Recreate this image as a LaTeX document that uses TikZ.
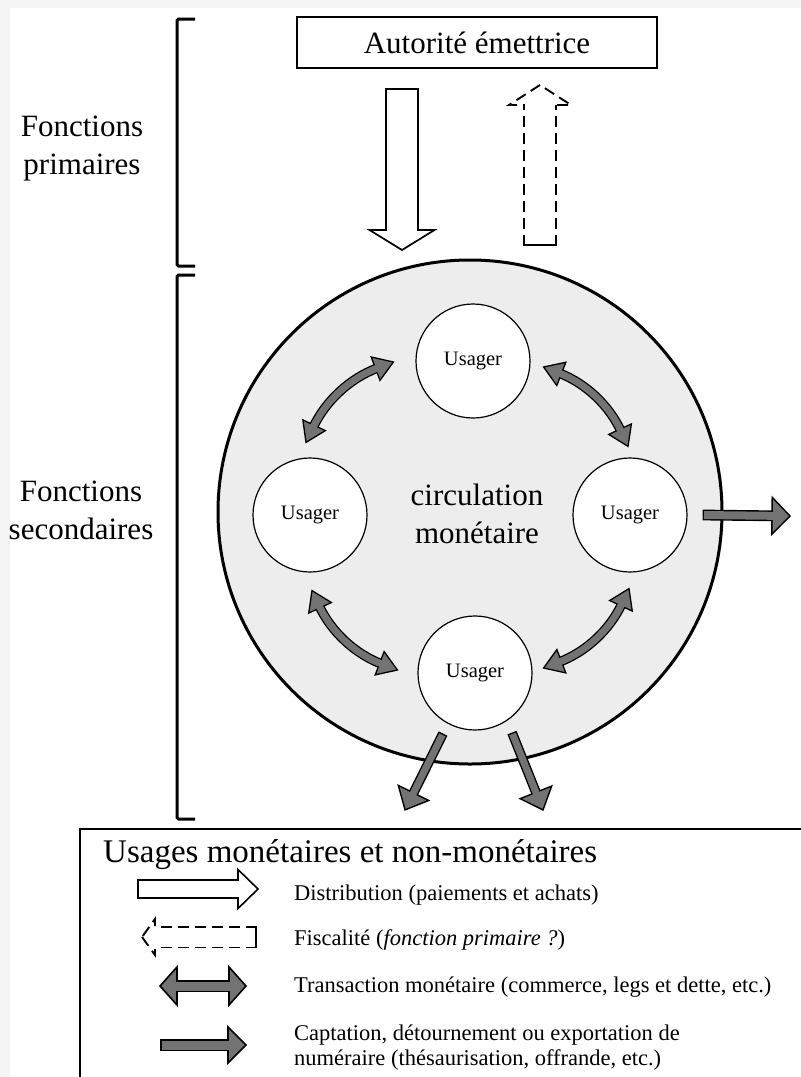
\documentclass[tikz,border=0pt]{standalone}
\usepackage{fontspec}
\setmainfont{Liberation Serif}
\usetikzlibrary{calc,decorations.markings}

\tikzset{
  arlw/.store in=\arlw, arshaft/.store in=\arshaft, arhead/.store in=\arhead,
  arlen/.store in=\arlen, arbody/.store in=\arbody,
  arlw=1.4pt, arshaft=8pt, arhead=30pt, arlen=18pt, arbody=black!55,
  arline/.style={solid},
  arhd/.style={draw=black, fill=\arbody, line width=\arlw, arline},
  % block arrow: outline, head, then body colour
  flow/.style={
    preaction={draw=black, line width=\arshaft+2*\arlw, arline, shorten >=\arlen-2pt},
    postaction={decorate, decoration={markings, mark=at position 1 with {
      \path[arhd] (0pt,0pt) -- ({-\arlen},{0.5*\arhead}) -- ({-\arlen},{-0.5*\arhead}) -- cycle;}}},
    postaction={draw=\arbody, line width=\arshaft, shorten >=\arlen-2pt, shorten <=\arlw}},
  dflow/.style={
    preaction={draw=black, line width=\arshaft+2*\arlw, shorten >=\arlen-2pt, shorten <=\arlen-2pt},
    postaction={decorate, decoration={markings,
      mark=at position 0 with {
        \path[arhd] (0pt,0pt) -- (\arlen,{0.5*\arhead}) -- (\arlen,{-0.5*\arhead}) -- cycle;},
      mark=at position 1 with {
        \path[arhd] (0pt,0pt) -- ({-\arlen},{0.5*\arhead}) -- ({-\arlen},{-0.5*\arhead}) -- cycle;}}},
    postaction={draw=\arbody, line width=\arshaft, shorten >=\arlen-2pt, shorten <=\arlen-2pt}},
  tax/.style={flow, arbody=white, arlw=1.9pt, arline/.style={dash pattern=on 11pt off 6pt}}
}

\begin{document}
\begin{tikzpicture}[x=1pt, y=-1pt,
  usager/.style={circle, draw, line width=1.2pt, fill=white, minimum size=114pt,
    inner sep=0pt, font=\fontsize{20.5}{24}\selectfont},
  sidetext/.style={align=center, inner sep=0pt, font=\fontsize{31}{38}\selectfont},
  legtext/.style={anchor=base west, inner sep=0pt, font=\fontsize{22.5}{26}\selectfont},
  bracket/.style={line width=3pt, rounded corners=1.5pt}]
\fill[black!4] (0,0) rectangle (801,1077);
\fill[white] (10,8) rectangle (801,1077);
\useasboundingbox (0,0) rectangle (801,1077);
\clip (0,0) rectangle (801,1077);

% primary functions
\node[draw, line width=2pt, minimum width=360pt, minimum height=51pt,
  font=\fontsize{31}{36}\selectfont] (auth) at (477,42.5) {Autorité émettrice};
\node[sidetext] (prim) at (82,149) {Fonctions\\primaires};
\node[sidetext] (sec) at (81,510) {Fonctions\\secondaires};
\draw[bracket] (195,19) -- (177,19) -- (177,266) -- (195,266);
\draw[bracket] (195,275) -- (177,275) -- (177,819) -- (195,819);

% circulation
\node[circle, draw, line width=3pt, fill=black!7, minimum size=504pt, inner sep=0pt] (pool) at (470,512) {};
\node[sidetext] (circ) at (477,514) {circulation\\monétaire};
\node[usager] (uT) at (473,361) {Usager};
\node[usager] (uL) at (310,515) {Usager};
\node[usager] (uR) at (630,515) {Usager};
\node[usager] (uB) at (475,673) {Usager};

\coordinate (d1) at ([xshift=-75pt, yshift=-19pt]auth.south);
\coordinate (d2) at (402,250);
\path[flow, arbody=white, arlw=1.7pt, arshaft=30pt, arhead=65pt, arlen=20pt] (d1) -- (d2);
\coordinate (f1) at (540,246);
\coordinate (f2) at ([xshift=63pt, yshift=-16pt]auth.south);
\path[tax, arshaft=30pt, arhead=62pt, arlen=20pt] (f1) -- (f2);

\coordinate (a1) at ([shift={(-4pt,15pt)}]uL.north);
\coordinate (a2) at ([shift={(-22pt,-1pt)}]uT.west);
\coordinate (a3) at ([shift={(13pt,-6pt)}]uT.east);
\coordinate (a4) at ([shift={(-2pt,11pt)}]uR.north);
\coordinate (a5) at ([shift={(-1pt,-16pt)}]uR.south);
\coordinate (a6) at ([shift={(11pt,5pt)}]uB.east);
\coordinate (a7) at ([shift={(-20pt,3pt)}]uB.west);
\coordinate (a8) at ([shift={(2pt,-18pt)}]uL.south);
\foreach \s/\t in {a1/a2, a3/a4, a5/a6, a7/a8}
  \path[dflow, arlw=1.3pt, arshaft=7pt, arhead=25pt, arlen=19pt] (\s) to[bend left=22] (\t);

\coordinate (r1) at ([xshift=15pt]uR.east);
\coordinate (r2) at (790,516);
\path[flow, arshaft=8pt, arhead=37pt, arlen=18pt] (r1) -- (r2);
\coordinate (b1) at ([shift={(-32pt,-3pt)}]uB.south);
\coordinate (b2) at (405,810);
\coordinate (b3) at ([shift={(37pt,-2pt)}]uB.south);
\coordinate (b4) at (543,810);
\path[flow, arshaft=7pt, arhead=34pt, arlen=19pt] (b1) -- (b2);
\path[flow, arshaft=7pt, arhead=34pt, arlen=19pt] (b3) -- (b4);

% legend
\draw[line width=2.2pt] (80,829) rectangle (830,1100);
\node[anchor=base west, inner sep=0pt, font=\fontsize{33}{38}\selectfont] (ttl) at (103,862)
  {Usages monétaires et non-monétaires};
\coordinate (l1a) at (137,889);
\coordinate (l1b) at (258,889);
\path[flow, arbody=white, arlw=1.6pt, arshaft=16pt, arhead=39pt, arlen=20pt] (l1a) -- (l1b);
\coordinate (l2a) at (257,937);
\coordinate (l2b) at (142,937);
\path[tax, arshaft=19pt, arhead=36pt, arlen=13pt] (l2a) -- (l2b);
\coordinate (l3a) at (160,986);
\coordinate (l3b) at (246,986);
\path[dflow, arlw=1.6pt, arshaft=9pt, arhead=38pt, arlen=17pt] (l3a) -- (l3b);
\coordinate (l4a) at (160,1045);
\coordinate (l4b) at (246,1045);
\path[flow, arlw=1.6pt, arshaft=9pt, arhead=36pt, arlen=18pt] (l4a) -- (l4b);
\node[legtext] (t1) at (294,900) {Distribution (paiements et achats)};
\node[legtext] (t2) at (294,945) {Fiscalité (\textit{fonction primaire~?})};
\node[legtext] (t3) at (294,992) {Transaction monétaire (commerce, legs et dette, etc.)};
\node[legtext] (t4) at (294,1040) {Captation, détournement ou exportation de};
\node[legtext] (t5) at (294,1065) {numéraire (thésaurisation, offrande, etc.)};
\end{tikzpicture}
\end{document}
